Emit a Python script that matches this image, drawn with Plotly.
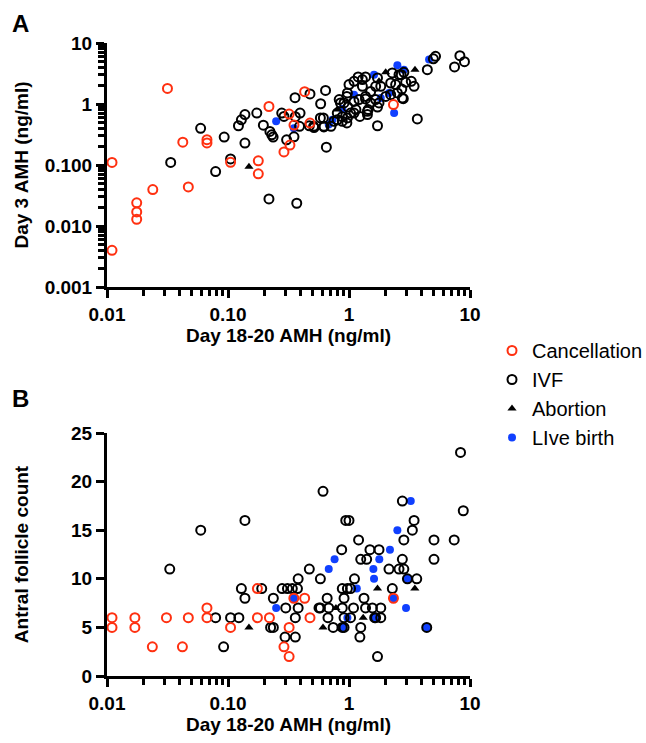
import plotly.graph_objects as go

# ---------------- Panel A data (Day 18-20 AMH vs Day 3 AMH) ----------------
a_cancel_x = [0.011, 0.011, 0.0176, 0.0176, 0.0176, 0.0239, 0.0316, 0.0423, 0.047, 0.067, 0.067,
              0.105, 0.178, 0.178, 0.218, 0.29, 0.325, 0.32, 0.351, 0.43, 0.476, 2.33]
a_cancel_y = [0.11, 0.004, 0.024, 0.017, 0.0129, 0.0395, 1.8, 0.237, 0.0437, 0.26, 0.23,
              0.111, 0.117, 0.0716, 0.91, 0.164, 0.212, 0.685, 0.452, 1.59, 0.487, 0.98]

a_ivf_x = [0.0336, 0.0594, 0.079, 0.093, 0.105, 0.122, 0.129, 0.138, 0.138, 0.173, 0.196, 0.218,
           0.222, 0.23, 0.236, 0.278, 0.29, 0.305, 0.358, 0.351, 0.37, 0.394, 0.36, 0.39, 0.47,
           0.476, 0.514, 0.583, 0.614, 0.64, 0.65, 0.51, 0.62,
           0.83, 1.0, 1.19, 1.37, 1.29, 0.96, 0.91, 0.98, 1.1, 1.03, 1.14, 0.88, 0.8, 0.96,
           1.23, 1.44, 1.37, 1.51, 1.72, 1.72, 1.42, 1.83, 2.21, 2.28, 2.43, 2.59, 2.84, 2.94,
           2.81, 2.73, 3.27, 3.45, 3.67, 4.44, 4.98, 5.19, 7.45, 8.25, 9.0,
           1.1, 0.97, 0.85, 1.21, 1.1, 0.97, 0.88, 0.75, 0.71, 0.62, 0.58, 0.8, 1.37, 1.51,
           1.42, 1.66, 1.77, 2.01, 2.51, 2.76, 2.21, 1.66, 1.72, 2.7, 1.29]
a_ivf_y = [0.11, 0.40, 0.078, 0.287, 0.126, 0.44, 0.55, 0.67, 0.229, 0.71, 0.45, 0.0278,
           0.355, 0.313, 0.287, 0.71, 0.625, 0.259, 1.27, 0.29, 0.0236, 0.71, 0.62, 0.43, 0.44,
           1.46, 0.41, 1.01, 0.59, 1.67, 0.196, 0.43, 0.42,
           1.18, 2.08, 2.78, 2.78, 2.51, 1.33, 1.04, 0.89, 1.1, 0.71, 0.81, 0.62, 0.55, 0.49,
           0.625, 0.81, 1.21, 1.61, 0.44, 0.89, 0.67, 1.95, 2.21, 3.23, 2.08, 3.03, 3.31, 2.27,
           1.22, 1.76, 2.35, 1.95, 0.57, 3.66, 5.5, 6.06, 4.05, 6.2, 4.95,
           2.35, 1.52, 1.04, 1.18, 0.71, 0.59, 0.52, 0.52, 0.43, 0.43, 0.59, 0.71, 1.33, 1.04,
           0.76, 1.18, 1.04, 1.33, 1.52, 1.25, 1.42, 1.95, 2.67, 3.03, 1.95]

a_abort_x = [0.149, 0.8, 2.01, 3.51, 1.77]
a_abort_y = [0.094, 0.81, 3.31, 3.66, 2.35]

a_live_x = [0.25, 0.35, 0.68, 0.73, 0.88, 1.1, 1.83, 2.14, 2.36, 1.61, 2.51, 2.84, 4.59]
a_live_y = [0.52, 0.40, 0.46, 0.55, 0.83, 1.42, 1.25, 1.52, 0.71, 3.03, 4.3, 3.66, 5.35]

# ---------------- Panel B data (Day 18-20 AMH vs antral follicle count) ----------------
b_cancel_x = [0.011, 0.011, 0.017, 0.017, 0.0237, 0.031, 0.042, 0.047, 0.067, 0.067, 0.105,
              0.175, 0.175, 0.22, 0.29, 0.32, 0.32, 0.35, 0.43, 0.476, 2.33]
b_cancel_y = [6, 5, 6, 5, 3, 6, 3, 6, 7, 6, 5, 9, 6, 6, 3, 5, 2, 8, 8, 6, 8]

b_ivf_x = [0.033, 0.0595, 0.138, 0.61, 0.079, 0.092, 0.105, 0.123, 0.129, 0.138, 0.19, 0.237,
           0.225, 0.237, 0.30, 0.28, 0.31, 0.34, 0.375, 0.38, 0.36, 0.296, 0.38, 0.36, 0.47,
           0.58, 0.565, 0.66, 0.67, 0.68, 0.74,
           8.35, 8.8, 2.76, 0.94, 1.0, 3.45, 3.34, 2.84, 5.04, 7.4, 5.04, 1.2, 0.87, 1.49, 1.77,
           1.25, 1.4, 2.76, 2.14, 2.59, 2.84, 1.11, 3.63, 3.04, 0.88, 0.97, 1.03, 2.28, 0.91,
           1.33, 0.58, 0.88, 1.09, 1.37, 1.56, 1.83, 0.91, 1.03, 1.66, 1.83, 0.91, 1.25, 1.23,
           1.72, 4.39, 1.63, 0.88]
b_ivf_y = [11, 15, 16, 19, 6, 3, 6, 6, 9, 8, 9, 8,
           5, 5, 7, 9, 9, 9, 9, 10, 4, 4, 7, 6, 11,
           10, 7, 8, 6, 7, 5,
           23, 17, 18, 16, 16, 16, 15, 14, 14, 14, 12, 14, 13, 13, 13,
           12, 12, 12, 11, 11, 11, 10, 10, 10, 9, 9, 9, 9, 8,
           8, 7, 7, 7, 7, 7, 7, 6, 6, 6, 6, 5, 5, 4,
           2, 5, 6, 5]

b_abort_x = [0.149, 0.61, 0.78, 1.31, 1.72, 3.5]
b_abort_y = [5, 5, 7, 6, 9, 9]

b_live_x = [3.24, 2.51, 2.18, 1.78, 1.59, 1.61, 0.76, 0.68, 1.16, 3.04, 2.33, 2.96, 1.63, 0.88,
            4.39, 0.35, 0.97, 0.25]
b_live_y = [18, 15, 13, 12, 11, 10, 12, 11, 9, 10, 8, 7, 6, 5, 5, 8, 6, 7]

series_names = ["Cancellation", "IVF", "Abortion", "LIve birth"]

RED = "#FF3010"
BLUE = "#1040FF"
FONT = "Liberation Sans"

W, H = 646, 743
ML, MR, MT, MB = 107, 176, 43, 67
PH = H - MT - MB

def py2paper(py):
    return (H - MB - py) / PH

def px2paper(px):
    return (px - ML) / (W - ML - MR)

fig = go.Figure()

def add_panel(xa, ya, cx, cy, ix, iy, abx, aby, lx, ly, show):
    # bottom to top: live birth, abortion, IVF, cancellation
    fig.add_trace(go.Scatter(x=lx, y=ly, mode="markers", name=series_names[3], legendrank=4,
                             marker=dict(symbol="circle", size=8, color=BLUE),
                             xaxis=xa, yaxis=ya, showlegend=show, cliponaxis=False))
    fig.add_trace(go.Scatter(x=abx, y=aby, mode="markers", name=series_names[2], legendrank=3,
                             marker=dict(symbol="triangle-up", size=8, color="black"),
                             xaxis=xa, yaxis=ya, showlegend=show, cliponaxis=False))
    fig.add_trace(go.Scatter(x=ix, y=iy, mode="markers", name=series_names[1], legendrank=2,
                             marker=dict(symbol="circle-open", size=9, color="black",
                                         line=dict(width=2, color="black")),
                             xaxis=xa, yaxis=ya, showlegend=show, cliponaxis=False))
    fig.add_trace(go.Scatter(x=cx, y=cy, mode="markers", name=series_names[0], legendrank=1,
                             marker=dict(symbol="circle-open", size=9, color=RED,
                                         line=dict(width=2, color=RED)),
                             xaxis=xa, yaxis=ya, showlegend=show, cliponaxis=False))

add_panel("x", "y", a_cancel_x, a_cancel_y, a_ivf_x, a_ivf_y, a_abort_x, a_abort_y,
          a_live_x, a_live_y, True)
add_panel("x2", "y2", b_cancel_x, b_cancel_y, b_ivf_x, b_ivf_y, b_abort_x, b_abort_y,
          b_live_x, b_live_y, False)

minor_vals = [m * 10 ** e for e in range(-3, 1) for m in range(2, 10)]
tickfont = dict(family=FONT, size=19, color="black", weight=700)
titlefont = dict(family=FONT, size=19, color="black", weight=700)

xcommon = dict(type="log", range=[-2, 1], tickvals=[0.01, 0.1, 1, 10],
               ticktext=["0.01", "0.10", "1", "10"], showline=True, linewidth=3,
               linecolor="black", ticks="outside", ticklen=8, tickwidth=3, tickcolor="black",
               showgrid=False, zeroline=False, tickfont=tickfont,
               minor=dict(tickvals=minor_vals, ticks="outside", ticklen=6, tickwidth=2.5,
                          tickcolor="black", showgrid=False),
               title=dict(text="Day 18-20 AMH (ng/ml)", font=titlefont, standoff=3))

fig.update_layout(
    width=W, height=H,
    margin=dict(l=ML, r=MR, t=MT, b=MB, autoexpand=False),
    paper_bgcolor="white", plot_bgcolor="white",
    xaxis=dict(**xcommon, domain=[0, 1], anchor="y"),
    xaxis2=dict(**xcommon, domain=[0, 1], anchor="y2"),
    yaxis=dict(type="log", range=[-3, 1], domain=[py2paper(287), 1], anchor="x",
               tickvals=[0.001, 0.01, 0.1, 1, 10],
               ticktext=["0.001", "0.010", "0.100", "1", "10"],
               showline=True, linewidth=3, linecolor="black", ticks="outside", ticklen=8,
               tickwidth=3, tickcolor="black", showgrid=False, zeroline=False,
               tickfont=tickfont,
               minor=dict(tickvals=minor_vals, ticks="outside", ticklen=6, tickwidth=2.5,
                          tickcolor="black", showgrid=False),
               title=dict(text="Day 3 AMH (ng/ml)", font=titlefont, standoff=12)),
    yaxis2=dict(range=[0, 25], domain=[0, py2paper(433)], anchor="x2",
                tickvals=[0, 5, 10, 15, 20, 25],
                showline=True, linewidth=3, linecolor="black", ticks="outside", ticklen=8,
                tickwidth=3, tickcolor="black", showgrid=False, zeroline=False,
                tickfont=tickfont,
                title=dict(text="Antral follicle count", font=titlefont, standoff=38)),
    legend=dict(x=px2paper(492), y=py2paper(331), xanchor="left", yanchor="top",
                font=dict(family=FONT, size=20, color="black"),
                bgcolor="rgba(0,0,0,0)", itemsizing="trace", tracegroupgap=3,
                traceorder="normal"),
    showlegend=True,
    annotations=[
        dict(text="A", x=px2paper(20), y=py2paper(23.5), xref="paper", yref="paper",
             showarrow=False, font=dict(family=FONT, size=24, color="black", weight=700),
             xanchor="center", yanchor="middle"),
        dict(text="B", x=px2paper(20), y=py2paper(398), xref="paper", yref="paper",
             showarrow=False, font=dict(family=FONT, size=24, color="black", weight=700),
             xanchor="center", yanchor="middle"),
    ],
)

fig.write_html("out.html", config={"displayModeBar": False},
               post_script="document.body.style.margin='0';document.body.style.overflow='hidden';")
